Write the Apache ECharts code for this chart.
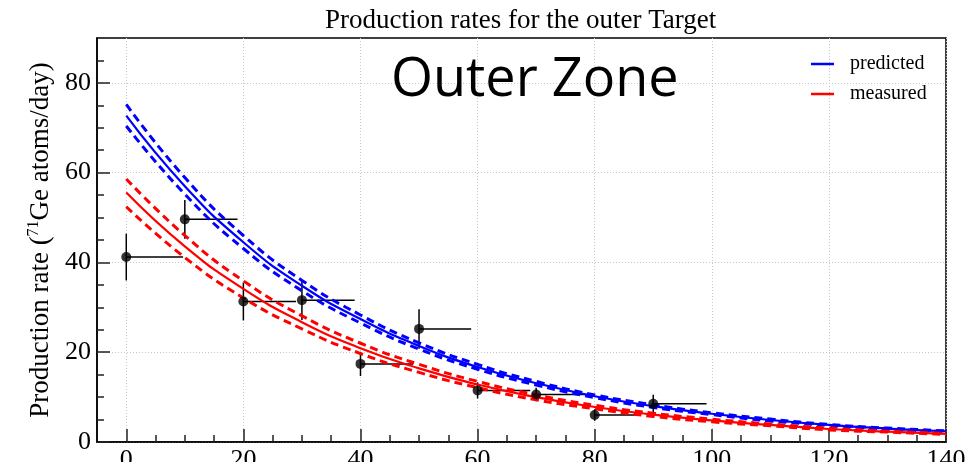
<!DOCTYPE html>
<html><head><meta charset="utf-8">
<script src="https://cdn.jsdelivr.net/npm/echarts@6/dist/echarts.min.js"></script>
<style>html,body{margin:0;padding:0;background:#fff}#c{width:971px;height:462px}</style>
</head><body><div id="c"></div>
<script>
// ---- data ----
const curveX        = [0, 10, 20, 30, 40, 50, 60, 70, 80, 90, 100, 110, 120, 130, 140];
const predicted     = [72.7, 57.0, 44.5, 34.8, 27.4, 21.4, 16.7, 13.1, 10.2, 8.0, 6.3, 4.9, 3.8, 3.0, 2.4];
const predictedHigh = [75.2, 58.9, 46.0, 36.0, 28.3, 22.1, 17.3, 13.5, 10.5, 8.3, 6.5, 5.1, 3.9, 3.1, 2.5];
const predictedLow  = [70.4, 55.2, 43.1, 33.7, 26.5, 20.7, 16.2, 12.7, 9.9, 7.7, 6.1, 4.7, 3.7, 2.9, 2.3];
const measured      = [55.6, 43.6, 34.1, 26.7, 20.9, 16.4, 12.8, 10.0, 7.8, 6.1, 4.8, 3.8, 2.9, 2.3, 1.8];
const measuredHigh  = [58.6, 46.0, 35.9, 28.1, 22.0, 17.3, 13.5, 10.5, 8.2, 6.4, 5.1, 4.0, 3.1, 2.4, 1.9];
const measuredLow   = [52.4, 41.1, 32.1, 25.2, 19.7, 15.5, 12.1, 9.4, 7.4, 5.7, 4.5, 3.6, 2.7, 2.2, 1.7];

const pointX    = [0, 10, 20, 30, 40, 50, 60, 70, 80, 90];
const pointY    = [41.2, 49.6, 31.3, 31.6, 17.4, 25.2, 11.5, 10.6, 6.0, 8.5];
const pointErrY = [5.2, 4.3, 4.2, 4.4, 2.7, 4.4, 1.8, 1.5, 1.3, 2.0];
const pointErrX = [9.7, 9.0, 9.0, 9.0, 9.0, 8.9, 9.0, 9.0, 7.0, 9.1];

const xTicks      = [0, 20, 40, 60, 80, 100, 120, 140];
const yTicks      = [0, 20, 40, 60, 80];
const xMinorTicks = [5, 10, 15, 25, 30, 35, 45, 50, 55, 65, 70, 75, 85, 90, 95, 105, 110, 115, 125, 130, 135];
const yMinorTicks = [5, 10, 15, 25, 30, 35, 45, 50, 55, 65, 70, 75, 85];

const titleText = 'Production rates for the outer Target';
const zoneText  = 'Outer Zone';

// ---- chart ----
const SERIF = 'Liberation Serif';
const pair = (xs, ys) => xs.map((x, i) => [x, ys[i]]);
const chart = echarts.init(document.getElementById('c'), null, {renderer: 'canvas'});

const lineSeries = (name, ys, color, dashed) => ({
  name, type: 'line', data: pair(curveX, ys), smooth: true, showSymbol: false,
  symbol: 'none', clip: true, silent: true, z: 3,
  lineStyle: {color, width: dashed ? 3 : 2.2, type: dashed ? [8, 5] : 'solid'},
  itemStyle: {color}
});

chart.setOption({
  animation: false,
  backgroundColor: '#fff',
  title: {
    text: titleText, left: 325, top: 7, padding: 0,
    textStyle: {fontFamily: SERIF, fontSize: 27, fontWeight: 'normal', color: '#000'}
  },
  legend: {
    orient: 'vertical', left: 811, top: 54, padding: 0, itemWidth: 23, itemHeight: 2.5, itemGap: 10,
    data: [{name: 'predicted', icon: 'rect'}, {name: 'measured', icon: 'rect'}],
    textStyle: {fontFamily: SERIF, fontSize: 20, color: '#000', padding: [0, 0, 0, 11]},
    selectedMode: false
  },
  graphic: [{
    type: 'text', x: 391, y: 81, z: 10,
    style: {text: zoneText, fontFamily: 'Open Sans', fontSize: 54, fill: '#000', align: 'left', verticalAlign: 'middle'}
  }],
  grid: {left: 97, right: 25, top: 38, bottom: 20, show: true, borderColor: '#000', borderWidth: 1.5,
         backgroundColor: 'transparent', containLabel: false, outerBoundsMode: 'none'},
  xAxis: [{
    type: 'value', min: -5, max: 140, position: 'bottom',
    axisLine: {show: true, onZero: false, lineStyle: {color: '#000', width: 1.5}},
    axisTick: {show: true, inside: true, length: 13, customValues: xTicks, lineStyle: {color: '#222', width: 1.5}},
    axisLabel: {customValues: xTicks, fontFamily: SERIF, fontSize: 26, color: '#000', margin: 5},
    splitLine: {show: true, lineStyle: {color: '#c8c8c8', type: [1, 2], width: 1}}
  }, {
    type: 'value', min: -5, max: 140, position: 'bottom',
    axisLine: {show: false, onZero: false},
    axisTick: {show: true, inside: true, length: 7, customValues: xMinorTicks, lineStyle: {color: '#222', width: 1.5}},
    axisLabel: {show: false},
    splitLine: {show: false}
  }],
  yAxis: [{
    type: 'value', min: 0, max: 90, position: 'left',
    name: '{a|Production rate (}{s|71}{a|Ge atoms/day)}',
    nameLocation: 'middle', nameGap: 38,
    nameTextStyle: {rich: {
      a: {fontFamily: SERIF, fontSize: 27, color: '#000'},
      s: {fontFamily: SERIF, fontSize: 16, color: '#000', padding: [0, 0, 13, 0]}
    }},
    axisLine: {show: true, onZero: false, lineStyle: {color: '#000', width: 1.5}},
    axisTick: {show: true, inside: true, length: 13, customValues: yTicks, lineStyle: {color: '#222', width: 1.5}},
    axisLabel: {customValues: yTicks, fontFamily: SERIF, fontSize: 26, color: '#000', margin: 6},
    splitLine: {show: true, lineStyle: {color: '#c8c8c8', type: [1, 2], width: 1}}
  }, {
    type: 'value', min: 0, max: 90, position: 'left',
    axisLine: {show: false, onZero: false},
    axisTick: {show: true, inside: true, length: 7, customValues: yMinorTicks, lineStyle: {color: '#222', width: 1.5}},
    axisLabel: {show: false},
    splitLine: {show: false}
  }],
  series: [
    {
      type: 'custom', name: 'errors', z: 2, silent: true,
      data: pointX.map((x, i) => [x, pointY[i], pointErrX[i], pointErrY[i]]),
      encode: {x: 0, y: 1},
      renderItem(params, api) {
        const x = api.value(0), y = api.value(1), ex = api.value(2), ey = api.value(3);
        const p = api.coord([x, y]), pr = api.coord([x + ex, y]);
        const pt = api.coord([x, y + ey]), pb = api.coord([x, y - ey]);
        const st = {stroke: '#000', lineWidth: 1.5};
        return {type: 'group', children: [
          {type: 'line', shape: {x1: p[0], y1: p[1], x2: pr[0], y2: pr[1]}, style: st},
          {type: 'line', shape: {x1: pt[0], y1: pt[1], x2: pb[0], y2: pb[1]}, style: st}
        ]};
      }
    },
    lineSeries('predicted', predicted, '#0000ff', false),
    lineSeries('predicted upper', predictedHigh, '#0000ff', true),
    lineSeries('predicted lower', predictedLow, '#0000ff', true),
    lineSeries('measured', measured, '#ff0000', false),
    lineSeries('measured upper', measuredHigh, '#ff0000', true),
    lineSeries('measured lower', measuredLow, '#ff0000', true),
    {
      type: 'scatter', name: 'data', z: 5, silent: true,
      data: pair(pointX, pointY), symbol: 'circle', symbolSize: 10,
      itemStyle: {color: '#000'}
    }
  ]
});
</script>
</body></html>
